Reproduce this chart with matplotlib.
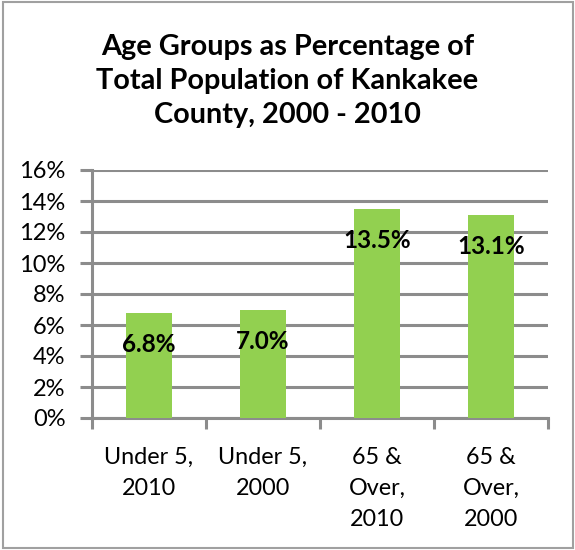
import numpy as np
import matplotlib.pyplot as plt
from matplotlib.patches import Rectangle
from matplotlib.ticker import PercentFormatter

# Kankakee County age groups
categories = ["Under 5,\n2010", "Under 5,\n2000", "65 &\nOver,\n2010", "65 &\nOver,\n2000"]
values = [6.8, 7.0, 13.5, 13.1]
labels = ["6.8%", "7.0%", "13.5%", "13.1%"]

plt.rcParams['font.family'] = ['Lato', 'DejaVu Sans']

fig = plt.figure(figsize=(5.75, 5.5), dpi=100)
ax = fig.add_axes([92/575, 1 - 418/550, 456/575, 248/550])

grey = '#8c8c8c'
x = np.arange(len(values))
ax.bar(x, values, width=0.4, color='#92d050', zorder=3)

for xi, v, lab in zip(x, values, labels):
    ax.annotate(lab, (xi, v), xytext=(0, -32), textcoords='offset pixels',
                ha='center', va='center', fontsize=17.5, fontweight='bold', zorder=4)

ax.set_xlim(-0.5, len(values) - 0.5)
ax.set_ylim(0, 16)
ax.set_yticks(np.arange(0, 17, 2))
ax.yaxis.set_major_formatter(PercentFormatter(decimals=0))
ax.yaxis.grid(True, color=grey, linewidth=2.2, zorder=0)

ax.set_xticks(np.arange(-0.5, len(values), 1))
ax.set_xticklabels([])
ax.set_xticks(x, minor=True)
ax.set_xticklabels(categories, minor=True, fontsize=16.8, linespacing=1.58)
ax.tick_params(axis='x', which='major', length=8, width=2.2, color=grey)
ax.tick_params(axis='x', which='minor', length=0, pad=21)
ax.tick_params(axis='y', length=9, width=2.2, color=grey, labelsize=17, pad=10)

for s in ['top', 'right']:
    ax.spines[s].set_visible(False)
for s in ['left', 'bottom']:
    ax.spines[s].set_color(grey)
    ax.spines[s].set_linewidth(2.2)

fig.text(0.5, 1 - 81/550, "Age Groups as Percentage of\nTotal Population of Kankakee\nCounty, 2000 - 2010",
         ha='center', va='center', fontsize=20.8, fontweight='bold', linespacing=1.38)

fig.patches.append(Rectangle((3/575, 2/550), 570/575, 546/550, transform=fig.transFigure,
                             fill=False, edgecolor='#a0a0a0', linewidth=1.5))

fig.savefig('out.png', dpi=100)
